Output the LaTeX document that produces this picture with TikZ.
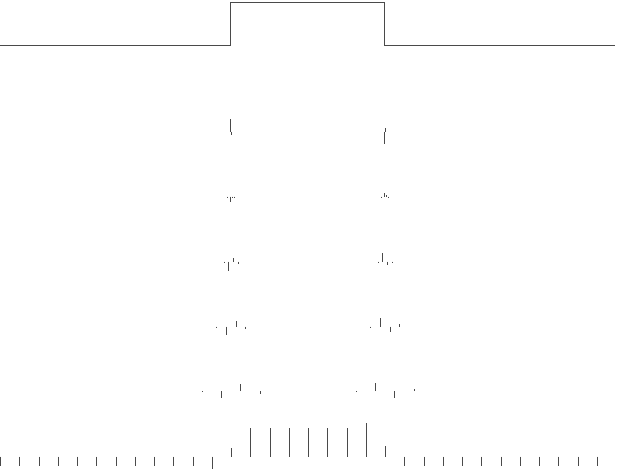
\documentclass[tikz,border=0pt]{standalone}
\usepackage{tikz}
\definecolor{colorTrazo}{HTML}{4A4A4A}

\begin{document}
\begin{tikzpicture}[x=1pt, y=-1pt,
        linea/.style={draw=colorTrazo, line width=1pt},
        tallo/.style={draw=colorTrazo, line width=1pt}
    ]
    \useasboundingbox (0,0) rectangle (620,471);
    % senal original
    \draw[linea] (0,45) -- (230.5,45) -- (230.5,2.5) -- (384.5,2.5) -- (384.5,45) -- (615,45);
    % d1
    \foreach \x/\y in {230.5/119.3, 231.7/135.3, 384.3/144, 385.3/127.5}
        \draw[tallo] (\x,131.5) -- (\x,\y);
    % d2
    \foreach \x/\y in {227.3/197.7, 230/201.7, 232.3/197.7, 234.5/197.7,
                       381.7/197.7, 384.3/192.7, 386.7/195, 388.9/197.7}
        \draw[tallo] (\x,196.7) -- (\x,\y);
    % d3
    \foreach \x/\y in {224/262.7, 228.3/270.7, 233.3/258.3, 238.3/263.5,
                       378.3/262.7, 382.7/252.7, 387.3/265, 392.3/262.7}
        \draw[tallo] (\x,261.7) -- (\x,\y);
    % d4
    \foreach \x/\y in {216/327.7, 226/335, 236/321, 245.3/328.5,
                       370.3/327.7, 380.3/318.3, 390.3/331.7, 399.7/324.3}
        \draw[tallo] (\x,326.7) -- (\x,\y);
    % d5
    \foreach \x/\y in {202.3/392, 221.3/398.3, 240.3/384.3, 260.3/393.7,
                       356.3/392, 375.3/383.3, 394.3/398.3, 414.3/389}
        \draw[tallo] (\x,391) -- (\x,\y);
    % a5
    \foreach \i/\y in {0/465.7, 1/465.7, 2/465.7, 3/465.7, 4/465.7, 5/465.7,
                       6/465.7, 7/465.7, 8/465.7, 9/465.7, 10/465.7, 11/469.3,
                       12/448.3, 13/428.3, 14/428.3, 15/428.3, 16/428.3, 17/428.3,
                       18/428.3, 19/423.3, 20/445.7, 21/465.7, 22/465.7, 23/465.7,
                       24/465.7, 25/465.7, 26/465.7, 27/465.7, 28/465.7, 29/465.7,
                       30/465.7, 31/465.7}
        \draw[tallo] (0.7+19.25*\i,456.7) -- (0.7+19.25*\i,\y);
\end{tikzpicture}
\end{document}
